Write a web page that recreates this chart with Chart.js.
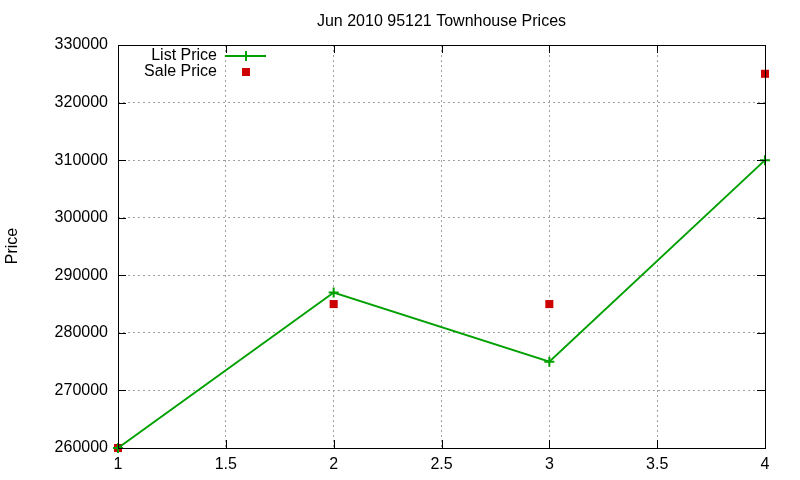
<!DOCTYPE html>
<html><head><meta charset="utf-8">
<script src="https://cdn.jsdelivr.net/npm/chart.js@4/dist/chart.umd.min.js"></script>
<style>html,body{margin:0;padding:0;background:#fff}#c{display:block}</style>
</head><body>
<div style="width:800px;height:480px"><canvas id="c" width="800" height="480"></canvas></div>
<script>
const titleText = "Jun 2010 95121 Townhouse Prices";
const yLabel = "Price";
const xValues = [1, 2, 3, 4];
const listPrice = [260000, 287000, 275000, 310000];
const salePrice = [260000, 285000, 285000, 325000];
const seriesNames = ["List Price", "Sale Price"];

const FONT = "'Liberation Sans', Arial, sans-serif";
const green = "#00a000", red = "#cc0000";

const overlay = {
  id: 'overlay',
  afterDraw(chart) {
    const {ctx, chartArea: a, scales} = chart;
    ctx.save();
    ctx.strokeStyle = '#000'; ctx.lineWidth = 1; ctx.setLineDash([]);
    ctx.strokeRect(Math.round(a.left)+0.5, Math.round(a.top)+0.5, Math.round(a.right-a.left), Math.round(a.bottom-a.top));
    ctx.beginPath();
    scales.y.ticks.forEach(t => {
      const y = Math.round(scales.y.getPixelForValue(t.value)) + 0.5;
      ctx.moveTo(a.left, y); ctx.lineTo(a.left + 8, y);
      ctx.moveTo(a.right, y); ctx.lineTo(a.right - 8, y);
    });
    scales.x.ticks.forEach(t => {
      const x = Math.round(scales.x.getPixelForValue(t.value)) + 0.5;
      ctx.moveTo(x, a.bottom); ctx.lineTo(x, a.bottom - 8);
      ctx.moveTo(x, a.top); ctx.lineTo(x, a.top + 8);
    });
    ctx.stroke();
    ctx.fillStyle = '#000';
    ctx.font = '16px ' + FONT;
    ctx.textAlign = 'center'; ctx.textBaseline = 'middle';
    ctx.fillText(titleText, (a.left + a.right) / 2, 21.5);
    ctx.save();
    ctx.translate(13, 246); ctx.rotate(-Math.PI / 2);
    ctx.fillText(yLabel, 0, 0);
    ctx.restore();
    ctx.textAlign = 'right';
    ctx.fillText(seriesNames[0], 217, 56);
    ctx.fillText(seriesNames[1], 217, 72);
    ctx.strokeStyle = green; ctx.lineWidth = 2;
    ctx.beginPath(); ctx.moveTo(225, 56); ctx.lineTo(266, 56); ctx.stroke();
    ctx.beginPath(); ctx.moveTo(246, 51); ctx.lineTo(246, 61); ctx.stroke();
    ctx.fillStyle = red;
    ctx.fillRect(242, 68, 8, 8);
    ctx.restore();
  }
};

new Chart(document.getElementById('c'), {
  type: 'line',
  data: {
    datasets: [
      {
        label: seriesNames[0],
        data: xValues.map((x, i) => ({x, y: listPrice[i]})),
        borderColor: green, backgroundColor: green, borderWidth: 2,
        pointStyle: 'cross', pointRadius: 5, pointBorderWidth: 2, pointBorderColor: green,
        tension: 0, fill: false, clip: false
      },
      {
        label: seriesNames[1],
        data: xValues.map((x, i) => ({x, y: salePrice[i]})),
        showLine: false,
        borderColor: red, backgroundColor: red,
        pointStyle: 'rect', pointRadius: 5.7, pointBorderWidth: 0,
        clip: false
      }
    ]
  },
  options: {
    responsive: false, animation: false,
    layout: {padding: {left: 0, right: 35, top: 45, bottom: 0}},
    plugins: {legend: {display: false}, title: {display: false}, tooltip: {enabled: false}},
    scales: {
      x: {
        type: 'linear', min: 1, max: 4,
        ticks: {stepSize: 0.5, color: '#000', font: {family: FONT, size: 16}, padding: 7, maxRotation: 0,
          callback: v => String(v)},
        grid: {color: '#a0a0a0', drawTicks: false, tickLength: 0},
        border: {display: false, dash: [2, 3]},
        afterFit: s => { s.height = 32; }
      },
      y: {
        type: 'linear', min: 260000, max: 330000,
        ticks: {stepSize: 10000, color: '#000', font: {family: FONT, size: 16}, padding: 10,
          callback: v => String(v)},
        grid: {color: '#a0a0a0', drawTicks: false, tickLength: 0},
        border: {display: false, dash: [2, 3]},
        afterFit: s => { s.width = 118; }
      }
    }
  },
  plugins: [overlay]
});
</script>
</body></html>
